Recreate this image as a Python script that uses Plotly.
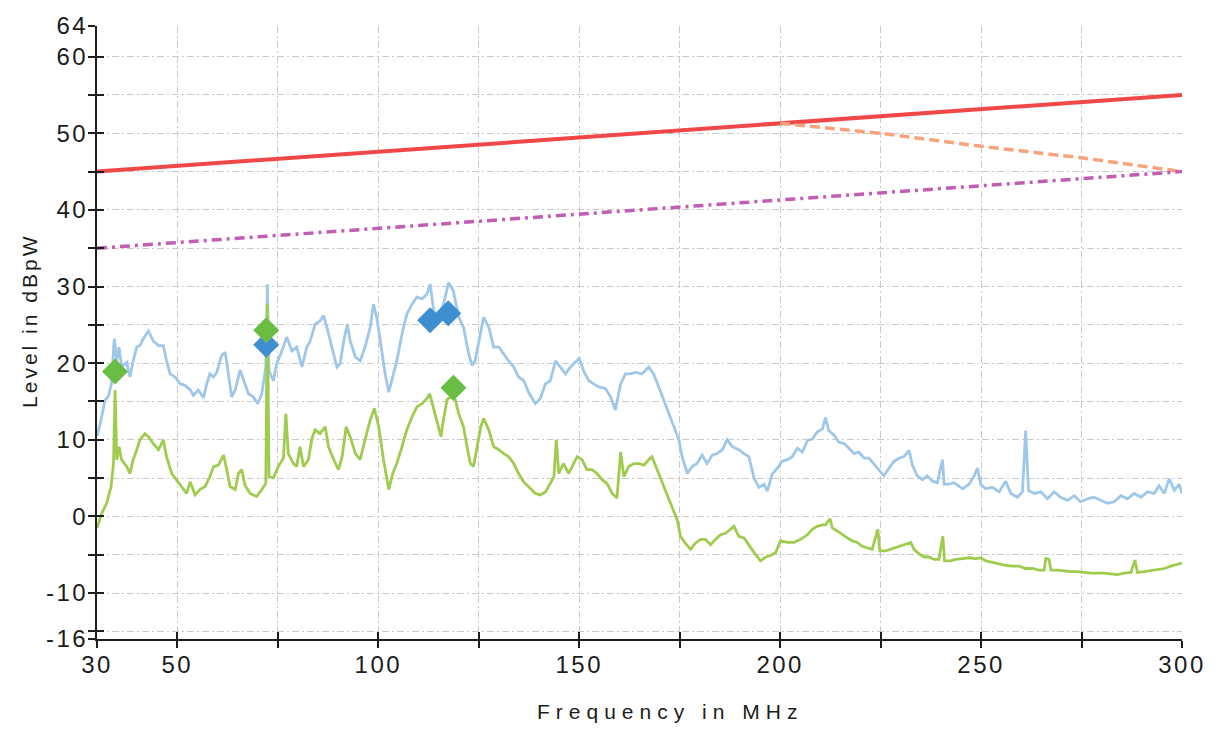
import plotly.graph_objects as go

# Measured disturbance power traces (frequency in MHz, level in dBpW)
peak_freq = [30.0, 30.8, 32.0, 32.8, 33.6, 34.3, 34.9, 35.5, 36.1, 37.4, 38.2, 39.0, 39.9, 40.7, 41.5, 42.8,
             44.0, 45.3, 46.5, 47.3, 48.2, 49.4, 50.7, 51.9, 53.2, 54.0, 55.2, 56.5, 57.3, 58.1, 59.0, 59.8,
             61.0, 61.9, 62.7, 63.5, 64.4, 65.6, 66.8, 67.7, 68.9, 70.0, 71.0, 72.0, 72.4, 72.8, 73.9, 74.7,
             76.0, 77.2, 78.5, 79.7, 81.0, 82.2, 83.0, 84.3, 85.5, 86.4, 87.2, 88.4, 89.7, 90.5, 91.4, 92.3,
             93.0, 94.3, 95.5, 96.7, 98.0, 98.8, 99.6, 100.5, 101.7, 102.6, 103.4, 104.6, 105.9, 107.1, 108.4,
             109.6, 110.9, 112.1, 112.9, 113.8, 115.0, 116.2, 117.5, 118.7, 120.0, 121.2, 122.5, 123.3, 124.1,
             125.0, 126.2, 127.5, 128.7, 130.0, 131.2, 132.4, 133.7, 134.9, 136.2, 137.4, 139.1, 140.3, 141.6,
             142.8, 144.1, 145.3, 146.6, 147.8, 149.1, 150.0, 151.1, 152.4, 153.6, 154.9, 156.5, 157.8, 159.0,
             160.3, 161.5, 162.7, 164.0, 165.6, 167.3, 168.5, 169.8, 171.0, 172.3, 173.5, 174.8, 175.6, 176.9,
             178.1, 179.3, 180.6, 181.8, 183.1, 184.3, 185.6, 186.8, 188.1, 189.7, 191.0, 192.2, 193.5, 194.7,
             196.0, 196.8, 198.0, 199.3, 200.5, 201.8, 203.0, 204.3, 205.5, 206.8, 208.0, 209.2, 210.5, 211.3,
             212.1, 213.4, 214.6, 215.9, 217.1, 218.4, 219.6, 220.9, 222.1, 223.3, 224.6, 225.8, 227.1, 228.3,
             229.6, 230.8, 232.1, 232.9, 234.1, 235.4, 236.6, 237.9, 239.1, 240.4, 240.8, 242.0, 243.3, 244.5,
             245.4, 247.0, 248.3, 249.1, 249.9, 251.2, 252.8, 254.5, 256.1, 257.4, 259.0, 260.3, 261.1, 261.8,
             263.2, 264.9, 266.5, 268.2, 269.8, 271.5, 273.2, 274.8, 276.5, 278.1, 279.8, 281.5, 283.1, 284.8,
             286.4, 288.1, 289.8, 291.4, 293.1, 294.3, 295.6, 296.8, 298.1, 299.3, 300.0]
peak_level = [10.5, 12.1, 15.2, 15.6, 17.3, 23.2, 20.3, 22.1, 19.5, 20.1, 18.2, 20.3, 22.1, 22.3, 23.2, 24.2,
              22.9, 22.3, 22.3, 20.3, 18.6, 18.2, 17.3, 17.1, 16.5, 15.8, 16.5, 15.5, 17.3, 18.6, 18.2, 18.8,
              21.0, 21.4, 18.6, 15.6, 16.5, 19.1, 17.3, 16.0, 15.6, 14.7, 16.0, 19.5, 30.3, 19.0, 17.7, 19.9,
              21.6, 23.4, 21.6, 22.1, 19.5, 22.1, 22.8, 25.1, 25.5, 26.2, 24.7, 22.1, 19.5, 19.9, 22.9, 25.1,
              22.9, 20.8, 20.3, 22.1, 24.7, 27.7, 26.0, 22.9, 18.6, 16.2, 17.7, 20.3, 23.8, 26.4, 27.7,
              28.6, 28.4, 29.0, 30.3, 26.8, 26.0, 27.7, 30.5, 29.4, 26.0, 24.7, 21.2, 19.7, 20.3,
              22.9, 26.0, 24.7, 22.1, 22.1, 21.2, 20.3, 19.5, 18.2, 17.7, 16.2, 14.7, 15.4, 17.3,
              17.7, 20.3, 19.5, 18.6, 19.5, 20.1, 20.6, 19.0, 17.7, 17.3, 16.9, 16.7, 15.6, 13.9,
              17.3, 18.6, 18.6, 18.8, 18.6, 19.5, 18.6, 16.9, 15.2, 13.4, 11.7, 10.0, 7.8, 5.6,
              6.5, 6.9, 8.0, 6.9, 8.0, 8.2, 8.7, 10.0, 9.1, 8.7, 8.2, 7.8, 5.0, 3.8,
              4.2, 3.3, 5.5, 6.3, 7.2, 7.4, 7.8, 8.9, 8.4, 9.9, 10.1, 11.0, 11.4, 12.9,
              11.2, 10.6, 9.7, 9.5, 8.9, 8.2, 8.4, 7.6, 7.6, 6.9, 6.1, 5.3, 6.3, 7.2,
              7.6, 7.8, 8.6, 6.7, 5.3, 4.8, 5.3, 4.6, 4.4, 7.4, 4.2, 4.2, 4.4, 4.0,
              3.6, 4.2, 5.3, 6.3, 4.2, 3.6, 3.8, 3.2, 4.6, 3.0, 2.5, 3.2, 11.2, 3.4,
              3.0, 3.2, 2.3, 3.2, 2.5, 2.1, 2.7, 1.9, 2.3, 2.5, 2.1, 1.7, 1.9, 2.7,
              2.3, 3.0, 2.5, 3.2, 3.0, 4.0, 3.0, 4.9, 3.4, 4.2, 3.0]

avg_freq = [30.0, 31.2, 32.4, 33.5, 34.1, 34.5, 34.9, 35.5, 36.1, 37.4, 38.2, 39.0, 39.9, 40.7, 41.9, 42.8,
            44.0, 45.3, 46.5, 47.3, 48.6, 49.8, 51.1, 52.3, 53.2, 54.4, 55.6, 56.9, 58.1, 59.0, 60.2, 61.5,
            62.3, 63.1, 64.4, 65.2, 66.0, 66.8, 68.1, 69.7, 71.0, 72.0, 72.4, 72.8, 73.9, 75.1, 76.4, 77.0,
            77.6, 78.9, 79.7, 80.5, 81.4, 82.6, 83.5, 84.3, 85.5, 86.8, 87.6, 88.9, 90.1, 91.0, 92.0, 93.0,
            94.3, 95.5, 96.7, 98.0, 99.0, 100.1, 101.3, 102.6, 103.6, 104.6, 105.9, 107.1, 108.4, 109.6,
            110.9, 112.1, 112.8, 113.8, 114.6, 115.6, 116.2, 117.1, 117.9, 119.2, 120.0, 121.2, 122.1, 122.9,
            123.7, 124.5, 125.5, 126.2, 127.5, 128.7, 130.0, 131.2, 132.4, 133.7, 134.9, 136.2, 137.8, 139.1,
            140.3, 141.6, 142.8, 143.7, 144.3, 144.9, 146.1, 147.4, 148.6, 149.5, 150.7, 151.9, 153.2, 154.4,
            155.7, 156.9, 158.2, 159.4, 160.3, 161.1, 162.3, 163.6, 164.8, 166.1, 167.3, 168.1, 169.4, 170.6,
            171.9, 173.1, 174.4, 175.2, 176.4, 177.7, 178.9, 180.2, 181.4, 182.7, 183.9, 185.2, 186.4, 187.6,
            188.5, 189.7, 191.0, 193.5, 195.1, 196.4, 197.6, 198.9, 200.1, 201.8, 203.4, 205.1, 206.8, 208.0,
            209.2, 210.5, 211.3, 212.4, 213.0, 214.2, 215.5, 216.7, 218.0, 219.2, 220.4, 221.7, 222.9, 224.3,
            224.8, 226.3, 227.5, 228.7, 230.0, 231.2, 232.5, 233.3, 234.6, 235.8, 237.0, 238.3, 239.5, 240.5,
            240.9, 242.4, 243.7, 245.4, 247.0, 248.7, 249.9, 251.2, 252.8, 254.5, 256.1, 257.8, 259.5, 261.1,
            262.8, 264.4, 265.7, 266.1, 266.9, 267.4, 269.0, 270.7, 272.3, 274.0, 275.6, 277.3, 279.0, 280.6,
            282.3, 283.9, 285.6, 287.3, 288.3, 288.9, 290.6, 292.2, 293.9, 295.6, 297.2, 298.9, 300.0]
avg_level = [-1.5, 0.4, 1.7, 3.9, 6.9, 16.5, 7.4, 9.1, 7.4, 6.5, 5.6, 7.4, 8.7, 10.0, 10.8, 10.4,
             9.5, 8.7, 10.0, 7.8, 5.6, 4.8, 3.9, 3.0, 4.5, 2.8, 3.5, 3.9, 5.2, 6.5, 6.7, 8.0,
             6.1, 3.9, 3.5, 5.6, 6.1, 4.1, 3.0, 2.6, 3.5, 4.3, 27.7, 5.2, 5.0, 6.5, 7.6, 13.4,
             8.2, 6.9, 6.5, 9.1, 6.5, 7.4, 10.2, 11.3, 10.8, 11.7, 9.1, 7.4, 6.1, 7.8, 11.7, 10.4,
             8.2, 7.4, 10.0, 12.6, 14.1, 11.7, 7.4, 3.5, 5.6, 6.9, 9.1, 11.3, 13.0, 14.3,
             14.7, 15.4, 16.0, 13.9, 12.6, 10.4, 12.6, 15.2, 15.6, 15.2, 13.4, 11.7, 9.1, 6.9,
             6.5, 8.7, 11.7, 12.8, 11.3, 9.1, 8.7, 8.2, 7.8, 6.9, 5.6, 4.5, 3.7, 3.0,
             2.8, 3.2, 4.3, 5.2, 10.0, 5.6, 6.9, 5.6, 6.9, 7.8, 7.4, 6.1, 6.1, 5.6,
             4.8, 4.3, 3.0, 2.4, 8.4, 5.2, 6.5, 6.9, 6.9, 6.7, 7.4, 7.8, 6.1, 4.5,
             3.0, 1.3, -0.5, -2.6, -3.5, -4.3, -3.5, -3.0, -3.0, -3.7, -3.0, -2.4, -2.2, -1.7,
             -1.3, -2.6, -2.8, -4.7, -5.8, -5.3, -5.1, -4.7, -3.2, -3.4, -3.4, -3.0, -2.4, -1.7,
             -1.3, -1.1, -1.1, -0.3, -1.5, -1.9, -2.4, -2.8, -3.2, -3.4, -3.9, -4.1, -4.3, -1.7,
             -4.5, -4.5, -4.3, -4.1, -3.9, -3.6, -3.4, -4.3, -4.9, -5.3, -5.3, -5.6, -5.6, -2.6,
             -5.8, -5.8, -5.6, -5.5, -5.4, -5.5, -5.4, -5.8, -6.0, -6.2, -6.4, -6.5, -6.5, -6.8,
             -6.8, -7.0, -7.0, -5.5, -5.6, -7.0, -7.0, -7.1, -7.2, -7.2, -7.3, -7.4, -7.4, -7.4,
             -7.5, -7.6, -7.4, -7.3, -5.7, -7.3, -7.2, -7.1, -7.0, -6.8, -6.5, -6.3, -6.1]

# Limit lines
qp_limit_freq = [30, 300]
qp_limit_level = [45.0, 55.0]
qp_limit_hi_freq = [200, 225, 250, 275, 300]
qp_limit_hi_level = [51.3, 50.0, 48.3, 46.8, 45.0]
av_limit_freq = [30, 300]
av_limit_level = [35.0, 45.0]

# Final measurement results
qp_result_freq = [72.1, 112.9, 117.4]
qp_result_level = [22.4, 25.6, 26.5]
av_result_freq = [34.5, 72.1, 118.7]
av_result_level = [18.9, 24.3, 16.8]

# Axis ticks
x_range = [30, 300]
y_range = [-16, 64]
x_tick_vals = [30, 50, 75, 100, 125, 150, 175, 200, 225, 250, 275, 300]
x_tick_text = ["30", "50", "", "100", "", "150", "", "200", "", "250", "", "300"]
y_tick_vals = [-16, -15, -10, -5, 0, 5, 10, 15, 20, 25, 30, 35, 40, 45, 50, 55, 60, 64]
y_tick_text = ["-16", "", "-10", "", "0", "", "10", "", "20", "", "30", "", "40", "", "50", "", "60", "64"]

FONT = "Liberation Sans, Arial, sans-serif"
TEXT_COLOR = "#1c1c1c"
AXIS_COLOR = "#1e1e1e"
GRID_COLOR = "#c9c9c9"

fig = go.Figure()

# measurement traces on the main axes
fig.add_trace(go.Scatter(x=peak_freq, y=peak_level, mode="lines",
                         line=dict(color="#9fc7ea", width=2.8), hoverinfo="skip"))
fig.add_trace(go.Scatter(x=avg_freq, y=avg_level, mode="lines",
                         line=dict(color="#9fcc4e", width=2.8), hoverinfo="skip"))
fig.add_trace(go.Scatter(x=qp_result_freq, y=qp_result_level, mode="markers",
                         marker=dict(symbol="diamond", size=20, color="#3d8fd1")))
fig.add_trace(go.Scatter(x=av_result_freq, y=av_result_level, mode="markers",
                         marker=dict(symbol="diamond", size=20, color="#69bd42")))

# limit lines on the companion axes (which also carry the inner tick halves)
fig.add_trace(go.Scatter(x=qp_limit_freq, y=qp_limit_level, mode="lines", xaxis="x2", yaxis="y2",
                         line=dict(color="#f04848", width=4)))
fig.add_trace(go.Scatter(x=qp_limit_hi_freq, y=qp_limit_hi_level, mode="lines", xaxis="x2", yaxis="y2",
                         line=dict(color="#f7a37c", width=3.5, dash="10px,5px")))
fig.add_trace(go.Scatter(x=av_limit_freq, y=av_limit_level, mode="lines", xaxis="x2", yaxis="y2",
                         line=dict(color="#c25db4", width=3.5, dash="10px,5px,3px,5px")))

tick_font = dict(family=FONT, size=24, color=TEXT_COLOR)
title_font = dict(family=FONT, size=21, color=TEXT_COLOR)

fig.update_layout(
    width=1224, height=729, autosize=False,
    margin=dict(l=97, r=42, t=18, b=90),
    paper_bgcolor="white", plot_bgcolor="white",
    showlegend=False,
    xaxis=dict(
        range=x_range, tickmode="array", tickvals=x_tick_vals, ticktext=x_tick_text,
        showgrid=True, gridcolor=GRID_COLOR, gridwidth=1.2, griddash="7px,3px,2px,3px",
        showline=True, linecolor=AXIS_COLOR, linewidth=2, zeroline=False,
        ticks="outside", ticklen=7, tickwidth=1.5, tickcolor=AXIS_COLOR,
        tickfont=tick_font, ticklabelstandoff=-4,
    ),
    yaxis=dict(
        range=y_range, tickmode="array", tickvals=y_tick_vals, ticktext=y_tick_text,
        showgrid=True, gridcolor=GRID_COLOR, gridwidth=1.2, griddash="7px,3px,2px,3px",
        showline=True, linecolor=AXIS_COLOR, linewidth=2, zeroline=False,
        ticks="outside", ticklen=7, tickwidth=1.5, tickcolor=AXIS_COLOR,
        tickfont=tick_font, ticklabelstandoff=-5,
    ),
    xaxis2=dict(
        overlaying="x", range=x_range, anchor="y2", side="bottom",
        tickmode="array", tickvals=x_tick_vals, showticklabels=False,
        showgrid=False, zeroline=False, showline=False,
        ticks="inside", ticklen=7, tickwidth=1.5, tickcolor=AXIS_COLOR,
    ),
    yaxis2=dict(
        overlaying="y", range=y_range, anchor="x2", side="left",
        tickmode="array", tickvals=y_tick_vals, showticklabels=False,
        showgrid=False, zeroline=False, showline=False,
        ticks="inside", ticklen=7, tickwidth=1.5, tickcolor=AXIS_COLOR,
    ),
    annotations=[
        dict(text="Frequency in MHz", xref="paper", yref="paper", x=0.528, y=-0.119,
             xanchor="center", yanchor="middle", showarrow=False, font=title_font),
        dict(text="Level in dBpW", xref="paper", yref="paper", x=-0.0625, y=0.52,
             xanchor="center", yanchor="middle", textangle=-90, showarrow=False, font=title_font),
    ],
)

spacing_js = """
var gd = document.getElementsByClassName('plotly-graph-div')[0];
function spaceText() {
  gd.querySelectorAll('.xtick text, .ytick text').forEach(function(t){ t.style.letterSpacing = '2.5px'; });
  var notes = gd.querySelectorAll('.annotation-text');
  if (notes[0]) { notes[0].style.letterSpacing = '6px'; }
  if (notes[1]) { notes[1].style.letterSpacing = '3px'; }
}
spaceText();
gd.on('plotly_afterplot', spaceText);
"""

fig.write_html("out.html", post_script=spacing_js)
